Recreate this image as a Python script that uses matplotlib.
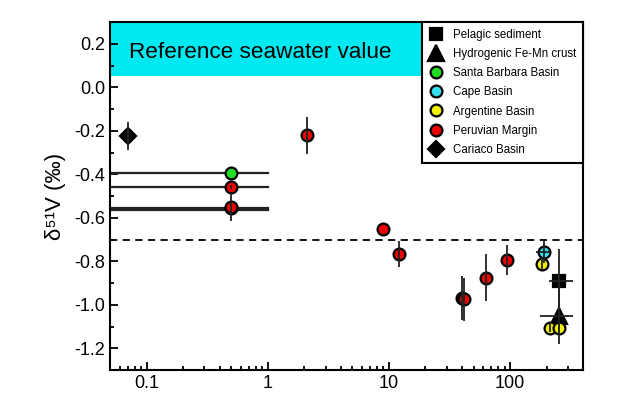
import numpy as np
import matplotlib.pyplot as plt
from matplotlib.ticker import MultipleLocator, LogLocator, NullFormatter

plt.rcParams['font.family'] = ['Liberation Sans', 'DejaVu Sans']

# x values, delta51V, y error, x error (lower, upper)
peru_x = [0.5, 0.5, 0.5, 2.1, 8.9, 12.1, 40, 42, 63, 94]
peru_y = [-0.46, -0.557, -0.55, -0.22, -0.65, -0.765, -0.97, -0.975, -0.875, -0.795]
peru_ye = [0.01, 0.0, 0.065, 0.085, 0.0, 0.06, 0.1, 0.1, 0.11, 0.07]

sbb_x = [0.5]
sbb_y = [-0.395]

cape_x = [191]
cape_y = [-0.757]
cape_ye = [0.05]
cape_xe = [[28], [24]]

arg_x = [182, 215, 254]
arg_y = [-0.812, -1.107, -1.105]
arg_ye = [0.03, 0.02, 0.02]

pel_x = [251]
pel_y = [-0.892]
pel_ye = [0.15]
pel_xe = [[41], [79]]

crust_x = [251]
crust_y = [-1.05]
crust_ye = [0.13]
crust_xe = [[76], [79]]

car_x = [0.07]
car_y = [-0.223]
car_ye = [0.065]

# samples at 0.5 whose range spans to 1
span_y = [-0.395, -0.46, -0.555, -0.565]

seawater_low = 0.05
threshold = -0.7

fig = plt.figure(figsize=(6.4, 4.0), dpi=100)
ax = fig.add_axes([0.172, 0.075, 0.739, 0.870])
ax.set_xscale('log')
ax.set_xlim(0.05, 400)
ax.set_ylim(-1.3, 0.3)

ax.axhspan(seawater_low, 0.3, color='#00e8f0', lw=0, zorder=0)
ax.text(0.071, 0.16, 'Reference seawater value', fontsize=16.2, va='center', ha='left', zorder=1)
ax.axhline(threshold, color='black', ls=(0, (4, 3)), lw=1.3, zorder=1)

for y in span_y:
    ax.plot([0.01, 1.0], [y, y], color='#222222', lw=1.6, zorder=2)

ekw = dict(fmt='none', ecolor='#222222', elinewidth=1.3, capsize=0, zorder=4)
ax.errorbar(peru_x, peru_y, yerr=peru_ye, **ekw)
ax.errorbar(cape_x, cape_y, yerr=cape_ye, xerr=cape_xe, **ekw)
ax.errorbar(arg_x, arg_y, yerr=arg_ye, **ekw)
ax.errorbar(pel_x, pel_y, yerr=pel_ye, xerr=pel_xe, **ekw)
ax.errorbar(crust_x, crust_y, yerr=crust_ye, xerr=crust_xe, **ekw)
ax.errorbar(car_x, car_y, yerr=car_ye, **ekw)

mk = dict(ls='none', mec='black', mew=1.6, zorder=3)
ax.plot(pel_x, pel_y, marker='s', ms=8, color='black', label='Pelagic sediment', **mk)
ax.plot(crust_x, crust_y, marker='^', ms=11, color='black', label='Hydrogenic Fe-Mn crust', **mk)
ax.plot(sbb_x, sbb_y, marker='o', ms=8.5, color='#22dd22', label='Santa Barbara Basin', **mk)
ax.plot(cape_x, cape_y, marker='o', ms=8.5, color='#33e0f0', label='Cape Basin', **mk)
ax.plot(arg_x, arg_y, marker='o', ms=8.5, color='#f0f000', label='Argentine Basin', **mk)
ax.plot(peru_x, peru_y, marker='o', ms=8.5, color='#ee0000', label='Peruvian Margin', **mk)
ax.plot(car_x, car_y, marker='D', ms=8.5, color='black', label='Cariaco Basin', **mk)

leg = ax.legend(loc='upper right', bbox_to_anchor=(1.0, 1.0), borderaxespad=0, fontsize=8.3,
                labelspacing=0.62, handlelength=1.2, handletextpad=0.9, borderpad=0.6,
                fancybox=False, framealpha=1, edgecolor='black', numpoints=1)
leg.get_frame().set_linewidth(1.5)

ax.set_yticks([-1.2, -1.0, -0.8, -0.6, -0.4, -0.2, 0.0, 0.2])
ax.set_yticklabels(['-1.2', '-1.0', '-0.8', '-0.6', '-0.4', '-0.2', '0.0', '0.2'])
ax.yaxis.set_minor_locator(MultipleLocator(0.1))
ax.set_xticks([0.1, 1, 10, 100])
ax.set_xticklabels(['0.1', '1', '10', '100'])
ax.xaxis.set_minor_locator(LogLocator(base=10, subs=np.arange(2, 10)))
ax.xaxis.set_minor_formatter(NullFormatter())

ax.tick_params(which='both', direction='in', labelsize=13, width=1.3, top=False, right=False)
ax.tick_params(which='major', length=6)
ax.tick_params(which='minor', length=3)
for s in ax.spines.values():
    s.set_linewidth(1.5)

ax.set_ylabel('δ⁵¹V (‰)', fontsize=16, labelpad=6)

fig.savefig('out.png', dpi=100)
